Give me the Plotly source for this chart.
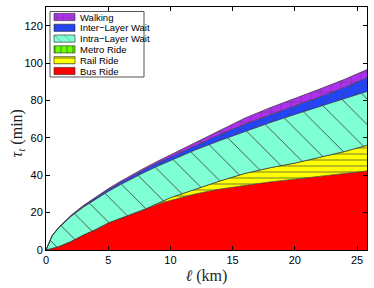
import plotly.graph_objects as go

# distance l (km)
dist_km = [0, 0.5, 1, 2, 3, 4, 5, 6, 7, 8, 9, 10, 12, 14, 16, 18, 20, 22, 24, 25.8]

# travel time components (min), stacked bottom -> top
bus_ride = [0, 0.8, 1.8, 4.5, 8, 11, 14.5, 17, 19.5, 22, 24.5, 26.5, 30, 32.6, 34.7, 36.4, 37.9, 39.3, 40.8, 42.3]
rail_ride = [0, 0, 0, 0, 0, 0, 0, 0, 0, 0, 0.5, 1.5, 2.5, 4.4, 6.3, 7.6, 8.6, 10.2, 11.9, 13.7]
metro_ride = [0] * 20
intra_wait = [0, 6.9, 9.9, 13.4, 14.9, 16.3, 16.8, 18, 19, 19.8, 19.9, 19.8, 21, 21.6, 22.5, 24.1, 26, 27.2, 28.1, 28.8]
inter_wait = [0, 0, 0.1, 0.3, 0.5, 0.7, 0.9, 1.1, 1.3, 1.5, 1.7, 1.9, 2.5, 3.2, 3.8, 4.3, 4.6, 5.2, 6.2, 7.3]
walking = [0, 0.1, 0.2, 0.3, 0.4, 0.5, 0.6, 0.7, 0.8, 0.9, 1.0, 1.2, 1.8, 2.6, 3.3, 3.7, 3.9, 4.2, 4.3, 4.4]

x_ticks = [0, 5, 10, 15, 20, 25]
y_ticks = [0, 20, 40, 60, 80, 100, 120]

series = [
    ("Bus Ride", bus_ride, "#ff0000", None),
    ("Rail Ride", rail_ride, "#ffff00", dict(shape="-", size=6, solidity=0.12)),
    ("Metro Ride", metro_ride, "#66ff00", dict(shape="|", size=6, solidity=0.12)),
    ("Intra\u2212Layer Wait", intra_wait, "#7fffd4", dict(shape="\\", size=18, solidity=0.05)),
    ("Inter\u2212Layer Wait", inter_wait, "#2244ff", dict(shape="/", size=8, solidity=0.1)),
    ("Walking", walking, "#b030f0", dict(shape="+", size=10, solidity=0.08)),
]

PW, PH = 321, 243  # plot area size in px (for the legend overlay axis)

fig = go.Figure()
for name, vals, col, pat in series:
    kw = {}
    if pat is not None:
        kw["fillpattern"] = dict(fgcolor="rgb(70,70,70)", bgcolor=col, fillmode="replace", **pat)
    fig.add_trace(go.Scatter(
        x=dist_km, y=vals, name=name, mode="lines", stackgroup="one",
        fillcolor=col, line=dict(color="rgb(50,50,50)", width=0.7),
        showlegend=False, **kw))

# ---- compact legend drawn on a pixel overlay axis ----
bx0, bx1, by0, by1 = 4, 98, 4.5, 70
fig.add_trace(go.Scatter(x=[bx0, bx1, bx1, bx0, bx0], y=[by0, by0, by1, by1, by0],
                         xaxis="x2", yaxis="y2", mode="lines", fill="toself",
                         fillcolor="white", line=dict(color="rgb(40,40,40)", width=0.8),
                         showlegend=False, hoverinfo="skip"))
annotations = []
for i, (name, vals, col, pat) in enumerate(reversed(series)):
    yc = 10 + 10.8 * i
    kw = {}
    if pat is not None:
        p = dict(pat)
        p["size"] = min(p["size"], 7)
        kw["fillpattern"] = dict(fgcolor="rgb(70,70,70)", bgcolor=col, fillmode="replace", **p)
    fig.add_trace(go.Scatter(x=[8, 29, 29, 8, 8], y=[yc - 3.6, yc - 3.6, yc + 3.6, yc + 3.6, yc - 3.6],
                             xaxis="x2", yaxis="y2", mode="lines", fill="toself",
                             fillcolor=col, line=dict(color="rgb(40,40,40)", width=0.6),
                             showlegend=False, hoverinfo="skip", **kw))
    annotations.append(dict(x=31.5, y=yc, xref="x2", yref="y2", text=name, showarrow=False,
                            xanchor="left", yanchor="middle",
                            font=dict(family="Liberation Sans, Arial", size=9.5, color="black")))

annotations.append(dict(x=-0.09, y=0.48, xref="paper", yref="paper",
                        text="<i>\u03c4<sub>t</sub></i> (min)", textangle=-90, showarrow=False,
                        xanchor="center", yanchor="middle",
                        font=dict(family="Liberation Serif, DejaVu Serif", size=16, color="rgb(30,30,30)")))

axis_common = dict(showline=True, linecolor="black", linewidth=1, mirror="ticks",
                   ticks="inside", ticklen=4, tickcolor="black", showgrid=False,
                   zeroline=False, tickfont=dict(family="Liberation Sans, Arial", size=11, color="black"))

fig.update_layout(
    width=374, height=288,
    margin=dict(l=46, r=7, t=7, b=38),
    paper_bgcolor="white", plot_bgcolor="white",
    showlegend=False,
    annotations=annotations,
    xaxis=dict(range=[0, 25.8], tickvals=x_ticks,
               title=dict(text="<i>\u2113</i> (km)", standoff=4,
                          font=dict(family="Liberation Serif, DejaVu Serif", size=16, color="rgb(30,30,30)")),
               **axis_common),
    yaxis=dict(range=[0, 130], tickvals=y_ticks, **axis_common),
    xaxis2=dict(overlaying="x", range=[0, PW], visible=False, fixedrange=True),
    yaxis2=dict(overlaying="y", range=[PH, 0], visible=False, fixedrange=True),
)

fig.write_html("out.html", config={"displayModeBar": False},
               post_script="document.body.style.margin='0';")
